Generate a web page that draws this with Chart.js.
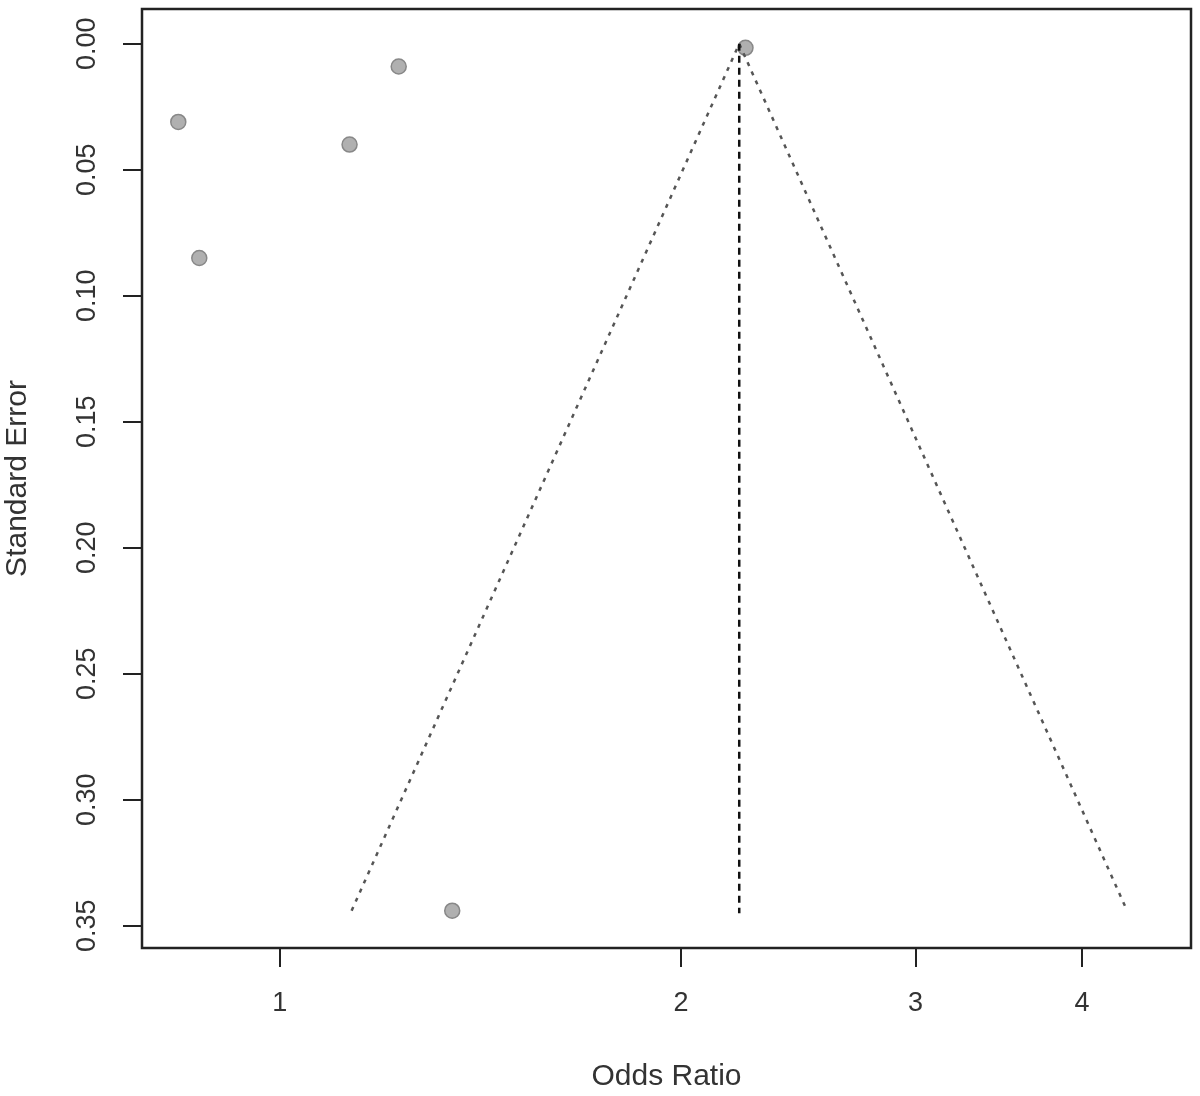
<!DOCTYPE html>
<html>
<head>
<meta charset="utf-8">
<script src="https://cdn.jsdelivr.net/npm/chart.js@4/dist/chart.umd.min.js"></script>
<style>
  body { margin: 0; background: #fff; }
  #wrap { width: 1200px; height: 1096px; }
</style>
</head>
<body>
<div id="wrap"><canvas id="myChart"></canvas></div>
<script>
// study estimates
var studyOR = [0.839, 0.870, 1.128, 1.228, 1.347, 2.236]
var studySE = [0.031, 0.085, 0.040, 0.009, 0.344, 0.0016]

// pooled estimate and pseudo 95% limits
var pooledOR = 2.212
var pooledSE = [0, 0.345]
var funnelOR = [1.132, 2.212, 4.324]
var funnelSE = [0.344, 0, 0.344]

var xTicks = [1, 2, 3, 4]
var yTicks = [0, 0.05, 0.10, 0.15, 0.20, 0.25, 0.30, 0.35]

var font = "'Liberation Sans', Arial, Helvetica, sans-serif"
var ink = '#222'

var boxPlugin = {
  id: 'box',
  afterDraw: function(chart) {
    var a = chart.chartArea
    var ctx = chart.ctx
    ctx.save()
    ctx.strokeStyle = ink
    ctx.lineWidth = 2.5
    ctx.strokeRect(a.left, a.top, a.right - a.left, a.bottom - a.top)
    ctx.restore()
  }
}

var points = studyOR.map(function(v, i) { return {x: v, y: studySE[i]} })
var vline = pooledSE.map(function(s) { return {x: pooledOR, y: s} })
var funnel = funnelOR.map(function(v, i) { return {x: v, y: funnelSE[i]} })

var chart = new Chart('myChart', {
  type: 'scatter',
  data: {
    datasets: [{
      data: vline,
      showLine: true,
      borderColor: '#111',
      borderWidth: 2.5,
      borderDash: [7, 5],
      pointRadius: 0,
      order: 1
    }, {
      data: funnel,
      showLine: true,
      borderColor: '#555',
      borderWidth: 2.5,
      borderDash: [4, 6],
      pointRadius: 0,
      order: 1
    }, {
      data: points,
      pointRadius: 7.5,
      backgroundColor: '#b0b0b0',
      borderColor: '#888',
      borderWidth: 1.5,
      order: 2
    }]
  },
  options: {
    responsive: true,
    maintainAspectRatio: false,
    animation: false,
    layout: { padding: { left: 0, top: 5, right: 3, bottom: 0 } },
    plugins: { legend: { display: false }, tooltip: { enabled: false } },
    scales: {
      x: {
        type: 'logarithmic',
        min: 0.788,
        max: 4.829,
        afterBuildTicks: function(s) { s.ticks = xTicks.map(function(v) { return {value: v} }) },
        afterFit: function(s) { s.height = 148; s.paddingLeft = 0; s.paddingRight = 0 },
        border: { display: false },
        grid: { drawOnChartArea: false, drawTicks: true, tickLength: 19, color: ink, lineWidth: 2 },
        ticks: {
          autoSkip: false,
          maxRotation: 0,
          padding: 20,
          color: '#333',
          font: { family: font, size: 27 },
          callback: function(v) { return String(v) }
        },
        title: {
          display: true,
          text: 'Odds Ratio',
          color: '#333',
          font: { family: font, size: 30 },
          padding: { top: 0, bottom: 1 }
        }
      },
      y: {
        type: 'linear',
        reverse: true,
        min: -0.0138,
        max: 0.3588,
        afterBuildTicks: function(s) { s.ticks = yTicks.map(function(v) { return {value: v} }) },
        afterFit: function(s) { s.width = 142; s.paddingTop = 0; s.paddingBottom = 0 },
        border: { display: false },
        grid: { drawOnChartArea: false, drawTicks: true, tickLength: 19, color: ink, lineWidth: 2 },
        ticks: {
          minRotation: 90,
          maxRotation: 90,
          crossAlign: 'center',
          padding: 9,
          color: '#333',
          font: { family: font, size: 27 },
          callback: function(v) { return v.toFixed(2) }
        },
        title: {
          display: true,
          text: 'Standard Error',
          color: '#333',
          font: { family: font, size: 30 },
          padding: { top: 0, bottom: 0 }
        }
      }
    }
  },
  plugins: [boxPlugin]
})
</script>
</body>
</html>
